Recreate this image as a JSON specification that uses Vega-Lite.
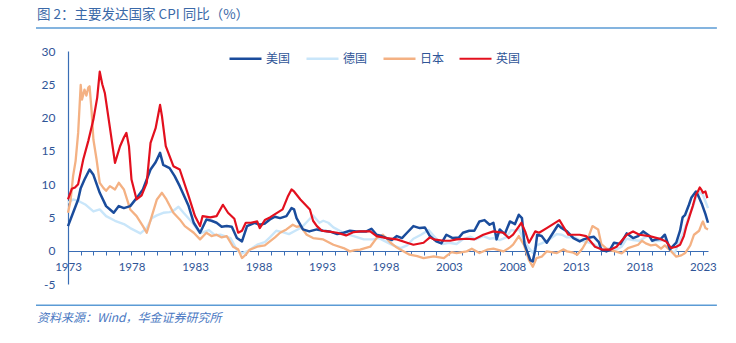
{
"$schema": "https://vega.github.io/schema/vega-lite/v6.json",
"width": 640, "height": 233,
"autosize": {"type": "none"},
"padding": {"left": 68, "top": 51, "right": 28, "bottom": 59},
"background": "white",
"config": {"view": {"stroke": null}, "axis": {"labelOverlap": false, "labelFlush": false}},
"title": {"text": "图 2：主要发达国家 CPI 同比（%）", "anchor": "start", "frame": "group", "dx": -31, "offset": 6, "fontSize": 13.5, "font": "Noto Sans CJK SC", "fontWeight": "normal", "color": "#3B69A8"},
"datasets": {
"cpi": [
{"country":"德国","year":1973.0,"cpi":7.2},{"country":"德国","year":1973.4,"cpi":7.7},{"country":"德国","year":1973.9,"cpi":7.4},{"country":"德国","year":1974.4,"cpi":6.9},{"country":"德国","year":1975.0,"cpi":5.9},{"country":"德国","year":1975.5,"cpi":6.2},{"country":"德国","year":1976.0,"cpi":5.2},{"country":"德国","year":1976.7,"cpi":4.5},{"country":"德国","year":1977.4,"cpi":4.0},{"country":"德国","year":1977.9,"cpi":3.4},{"country":"德国","year":1978.7,"cpi":2.6},{"country":"德国","year":1979.2,"cpi":3.4},{"country":"德国","year":1979.6,"cpi":4.9},{"country":"德国","year":1980.0,"cpi":5.3},{"country":"德国","year":1980.5,"cpi":5.7},{"country":"德国","year":1981.0,"cpi":5.8},{"country":"德国","year":1981.3,"cpi":6.0},{"country":"德国","year":1981.7,"cpi":6.6},{"country":"德国","year":1982.1,"cpi":5.7},{"country":"德国","year":1982.8,"cpi":4.2},{"country":"德国","year":1983.4,"cpi":2.6},{"country":"德国","year":1984.1,"cpi":3.1},{"country":"德国","year":1984.6,"cpi":2.3},{"country":"德国","year":1985.0,"cpi":2.4},{"country":"德国","year":1985.8,"cpi":1.9},{"country":"德国","year":1986.3,"cpi":0.1},{"country":"德国","year":1986.7,"cpi":-0.4},{"country":"德国","year":1987.3,"cpi":0.1},{"country":"德国","year":1987.9,"cpi":0.9},{"country":"德国","year":1988.5,"cpi":1.3},{"country":"德国","year":1988.9,"cpi":2.0},{"country":"德国","year":1989.4,"cpi":3.0},{"country":"德国","year":1989.9,"cpi":2.8},{"country":"德国","year":1990.4,"cpi":2.5},{"country":"德国","year":1990.9,"cpi":3.0},{"country":"德国","year":1991.4,"cpi":3.5},{"country":"德国","year":1991.9,"cpi":4.5},{"country":"德国","year":1992.3,"cpi":5.3},{"country":"德国","year":1992.8,"cpi":4.2},{"country":"德国","year":1993.1,"cpi":4.5},{"country":"德国","year":1993.5,"cpi":4.2},{"country":"德国","year":1993.9,"cpi":3.5},{"country":"德国","year":1994.4,"cpi":3.0},{"country":"德国","year":1994.9,"cpi":2.5},{"country":"德国","year":1995.5,"cpi":2.2},{"country":"德国","year":1996.3,"cpi":1.7},{"country":"德国","year":1997.0,"cpi":1.7},{"country":"德国","year":1997.5,"cpi":1.9},{"country":"德国","year":1997.8,"cpi":1.6},{"country":"德国","year":1998.6,"cpi":0.8},{"country":"德国","year":1999.2,"cpi":0.4},{"country":"德国","year":1999.7,"cpi":0.8},{"country":"德国","year":2000.2,"cpi":1.8},{"country":"德国","year":2000.8,"cpi":2.4},{"country":"德国","year":2001.4,"cpi":3.1},{"country":"德国","year":2002.0,"cpi":1.8},{"country":"德国","year":2002.5,"cpi":1.0},{"country":"德国","year":2003.0,"cpi":1.2},{"country":"德国","year":2003.6,"cpi":1.0},{"country":"德国","year":2004.1,"cpi":1.7},{"country":"德国","year":2004.7,"cpi":2.1},{"country":"德国","year":2005.1,"cpi":1.7},{"country":"德国","year":2005.7,"cpi":2.2},{"country":"德国","year":2006.2,"cpi":1.8},{"country":"德国","year":2006.5,"cpi":1.9},{"country":"德国","year":2007.0,"cpi":1.6},{"country":"德国","year":2007.5,"cpi":2.0},{"country":"德国","year":2007.9,"cpi":3.1},{"country":"德国","year":2008.3,"cpi":3.0},{"country":"德国","year":2008.5,"cpi":3.3},{"country":"德国","year":2008.9,"cpi":1.6},{"country":"德国","year":2009.3,"cpi":0.4},{"country":"德国","year":2009.6,"cpi":-0.3},{"country":"德国","year":2009.9,"cpi":0.8},{"country":"德国","year":2010.3,"cpi":1.1},{"country":"德国","year":2010.9,"cpi":1.7},{"country":"德国","year":2011.5,"cpi":2.5},{"country":"德国","year":2011.9,"cpi":2.4},{"country":"德国","year":2012.3,"cpi":2.0},{"country":"德国","year":2012.9,"cpi":2.0},{"country":"德国","year":2013.4,"cpi":1.5},{"country":"德国","year":2013.9,"cpi":1.3},{"country":"德国","year":2014.4,"cpi":1.0},{"country":"德国","year":2014.9,"cpi":0.3},{"country":"德国","year":2015.5,"cpi":0.3},{"country":"德国","year":2016.2,"cpi":0.2},{"country":"德国","year":2016.6,"cpi":0.6},{"country":"德国","year":2017.0,"cpi":1.8},{"country":"德国","year":2017.5,"cpi":1.6},{"country":"德国","year":2018.0,"cpi":1.5},{"country":"德国","year":2018.7,"cpi":2.3},{"country":"德国","year":2019.0,"cpi":1.4},{"country":"德国","year":2019.6,"cpi":1.5},{"country":"德国","year":2020.1,"cpi":1.7},{"country":"德国","year":2020.5,"cpi":0.0},{"country":"德国","year":2020.8,"cpi":-0.3},{"country":"德国","year":2021.1,"cpi":1.3},{"country":"德国","year":2021.4,"cpi":2.4},{"country":"德国","year":2021.7,"cpi":4.0},{"country":"德国","year":2021.9,"cpi":5.3},{"country":"德国","year":2022.2,"cpi":6.5},{"country":"德国","year":2022.45,"cpi":8.0},{"country":"德国","year":2022.75,"cpi":8.8},{"country":"德国","year":2023.0,"cpi":8.4},{"country":"德国","year":2023.2,"cpi":7.4},{"country":"德国","year":2023.4,"cpi":6.4},
{"country":"日本","year":1973.0,"cpi":5.7},{"country":"日本","year":1973.2,"cpi":7.5},{"country":"日本","year":1973.4,"cpi":11.2},{"country":"日本","year":1973.6,"cpi":13.5},{"country":"日本","year":1973.8,"cpi":17.7},{"country":"日本","year":1974.0,"cpi":24.9},{"country":"日本","year":1974.1,"cpi":22.7},{"country":"日本","year":1974.3,"cpi":24.2},{"country":"日本","year":1974.45,"cpi":23.3},{"country":"日本","year":1974.6,"cpi":24.5},{"country":"日本","year":1974.7,"cpi":24.7},{"country":"日本","year":1974.85,"cpi":21.2},{"country":"日本","year":1975.0,"cpi":16.7},{"country":"日本","year":1975.25,"cpi":13.7},{"country":"日本","year":1975.5,"cpi":10.2},{"country":"日本","year":1975.8,"cpi":9.4},{"country":"日本","year":1976.0,"cpi":9.0},{"country":"日本","year":1976.3,"cpi":9.7},{"country":"日本","year":1976.7,"cpi":9.2},{"country":"日本","year":1977.0,"cpi":10.2},{"country":"日本","year":1977.4,"cpi":9.2},{"country":"日本","year":1977.9,"cpi":6.2},{"country":"日本","year":1978.4,"cpi":5.2},{"country":"日本","year":1978.9,"cpi":3.7},{"country":"日本","year":1979.2,"cpi":2.7},{"country":"日本","year":1979.6,"cpi":5.2},{"country":"日本","year":1980.0,"cpi":7.7},{"country":"日本","year":1980.4,"cpi":8.7},{"country":"日本","year":1980.75,"cpi":7.7},{"country":"日本","year":1981.3,"cpi":5.7},{"country":"日本","year":1981.8,"cpi":4.7},{"country":"日本","year":1982.2,"cpi":3.7},{"country":"日本","year":1982.9,"cpi":2.7},{"country":"日本","year":1983.4,"cpi":1.7},{"country":"日本","year":1983.9,"cpi":2.7},{"country":"日本","year":1984.3,"cpi":2.2},{"country":"日本","year":1984.7,"cpi":2.4},{"country":"日本","year":1985.1,"cpi":2.0},{"country":"日本","year":1985.5,"cpi":2.2},{"country":"日本","year":1986.0,"cpi":0.6},{"country":"日本","year":1986.4,"cpi":0.2},{"country":"日本","year":1986.7,"cpi":-1.1},{"country":"日本","year":1987.0,"cpi":-0.6},{"country":"日本","year":1987.3,"cpi":0.15},{"country":"日本","year":1987.9,"cpi":0.6},{"country":"日本","year":1988.5,"cpi":0.8},{"country":"日本","year":1988.9,"cpi":1.4},{"country":"日本","year":1989.3,"cpi":2.0},{"country":"日本","year":1989.7,"cpi":2.7},{"country":"日本","year":1990.2,"cpi":3.2},{"country":"日本","year":1990.7,"cpi":3.9},{"country":"日本","year":1991.0,"cpi":3.6},{"country":"日本","year":1991.3,"cpi":3.7},{"country":"日本","year":1991.8,"cpi":2.4},{"country":"日本","year":1992.3,"cpi":1.9},{"country":"日本","year":1993.1,"cpi":1.7},{"country":"日本","year":1993.9,"cpi":0.9},{"country":"日本","year":1994.7,"cpi":0.4},{"country":"日本","year":1995.2,"cpi":-0.1},{"country":"日本","year":1995.6,"cpi":0.1},{"country":"日本","year":1996.0,"cpi":0.15},{"country":"日本","year":1996.8,"cpi":0.6},{"country":"日本","year":1997.3,"cpi":1.9},{"country":"日本","year":1997.8,"cpi":2.4},{"country":"日本","year":1998.4,"cpi":1.2},{"country":"日本","year":1998.8,"cpi":0.6},{"country":"日本","year":1999.2,"cpi":0.15},{"country":"日本","year":1999.9,"cpi":-0.6},{"country":"日本","year":2000.5,"cpi":-0.8},{"country":"日本","year":2001.0,"cpi":-1.1},{"country":"日本","year":2001.8,"cpi":-0.85},{"country":"日本","year":2002.6,"cpi":-1.1},{"country":"日本","year":2003.2,"cpi":-0.2},{"country":"日本","year":2003.6,"cpi":-0.35},{"country":"日本","year":2004.4,"cpi":-0.1},{"country":"日本","year":2004.8,"cpi":0.3},{"country":"日本","year":2005.4,"cpi":-0.35},{"country":"日本","year":2006.0,"cpi":0.15},{"country":"日本","year":2006.5,"cpi":0.3},{"country":"日本","year":2007.3,"cpi":-0.1},{"country":"日本","year":2007.8,"cpi":0.5},{"country":"日本","year":2008.05,"cpi":0.9},{"country":"日本","year":2008.5,"cpi":2.2},{"country":"日本","year":2008.9,"cpi":0.9},{"country":"日本","year":2009.3,"cpi":-1.4},{"country":"日本","year":2009.6,"cpi":-2.4},{"country":"日本","year":2009.9,"cpi":-1.1},{"country":"日本","year":2010.3,"cpi":-0.9},{"country":"日本","year":2010.7,"cpi":-0.1},{"country":"日本","year":2011.5,"cpi":-0.35},{"country":"日本","year":2012.0,"cpi":0.2},{"country":"日本","year":2012.3,"cpi":-0.1},{"country":"日本","year":2012.8,"cpi":-0.3},{"country":"日本","year":2013.1,"cpi":-0.6},{"country":"日本","year":2013.5,"cpi":0.3},{"country":"日本","year":2013.9,"cpi":1.6},{"country":"日本","year":2014.3,"cpi":3.7},{"country":"日本","year":2014.75,"cpi":3.2},{"country":"日本","year":2015.0,"cpi":1.0},{"country":"日本","year":2015.5,"cpi":0.15},{"country":"日本","year":2016.1,"cpi":-0.1},{"country":"日本","year":2016.6,"cpi":-0.4},{"country":"日本","year":2017.1,"cpi":0.4},{"country":"日本","year":2017.9,"cpi":0.9},{"country":"日本","year":2018.2,"cpi":1.5},{"country":"日本","year":2018.5,"cpi":1.1},{"country":"日本","year":2018.9,"cpi":0.8},{"country":"日本","year":2019.3,"cpi":0.9},{"country":"日本","year":2019.7,"cpi":0.3},{"country":"日本","year":2020.0,"cpi":0.8},{"country":"日本","year":2020.4,"cpi":0.1},{"country":"日本","year":2020.9,"cpi":-0.9},{"country":"日本","year":2021.3,"cpi":-0.7},{"country":"日本","year":2021.6,"cpi":-0.35},{"country":"日本","year":2022.0,"cpi":0.8},{"country":"日本","year":2022.3,"cpi":2.4},{"country":"日本","year":2022.7,"cpi":3.0},{"country":"日本","year":2022.9,"cpi":4.0},{"country":"日本","year":2023.0,"cpi":4.4},{"country":"日本","year":2023.2,"cpi":3.4},{"country":"日本","year":2023.4,"cpi":3.2},
{"country":"美国","year":1973.0,"cpi":3.7},{"country":"美国","year":1973.4,"cpi":5.7},{"country":"美国","year":1973.8,"cpi":7.7},{"country":"美国","year":1974.0,"cpi":9.4},{"country":"美国","year":1974.3,"cpi":10.7},{"country":"美国","year":1974.7,"cpi":12.2},{"country":"美国","year":1975.0,"cpi":11.4},{"country":"美国","year":1975.5,"cpi":8.7},{"country":"美国","year":1976.0,"cpi":6.7},{"country":"美国","year":1976.6,"cpi":5.7},{"country":"美国","year":1977.0,"cpi":6.7},{"country":"美国","year":1977.4,"cpi":6.4},{"country":"美国","year":1977.9,"cpi":6.7},{"country":"美国","year":1978.4,"cpi":7.9},{"country":"美国","year":1978.9,"cpi":9.2},{"country":"美国","year":1979.5,"cpi":12.2},{"country":"美国","year":1979.9,"cpi":13.3},{"country":"美国","year":1980.25,"cpi":14.7},{"country":"美国","year":1980.5,"cpi":12.9},{"country":"美国","year":1981.0,"cpi":12.4},{"country":"美国","year":1981.4,"cpi":11.2},{"country":"美国","year":1981.8,"cpi":9.7},{"country":"美国","year":1982.5,"cpi":6.7},{"country":"美国","year":1982.9,"cpi":4.2},{"country":"美国","year":1983.4,"cpi":2.7},{"country":"美国","year":1983.9,"cpi":4.7},{"country":"美国","year":1984.3,"cpi":4.5},{"country":"美国","year":1984.7,"cpi":4.2},{"country":"美国","year":1985.1,"cpi":3.6},{"country":"美国","year":1985.5,"cpi":3.7},{"country":"美国","year":1985.9,"cpi":3.6},{"country":"美国","year":1986.3,"cpi":1.9},{"country":"美国","year":1986.7,"cpi":1.4},{"country":"美国","year":1987.1,"cpi":3.7},{"country":"美国","year":1987.7,"cpi":4.2},{"country":"美国","year":1988.1,"cpi":3.9},{"country":"美国","year":1988.5,"cpi":4.1},{"country":"美国","year":1988.9,"cpi":4.7},{"country":"美国","year":1989.3,"cpi":5.1},{"country":"美国","year":1989.7,"cpi":4.9},{"country":"美国","year":1990.2,"cpi":5.2},{"country":"美国","year":1990.6,"cpi":6.4},{"country":"美国","year":1990.8,"cpi":6.2},{"country":"美国","year":1991.0,"cpi":4.9},{"country":"美国","year":1991.5,"cpi":3.2},{"country":"美国","year":1992.0,"cpi":2.9},{"country":"美国","year":1992.6,"cpi":3.2},{"country":"美国","year":1993.1,"cpi":3.0},{"country":"美国","year":1993.6,"cpi":2.9},{"country":"美国","year":1994.2,"cpi":2.5},{"country":"美国","year":1994.7,"cpi":2.7},{"country":"美国","year":1995.2,"cpi":3.0},{"country":"美国","year":1995.7,"cpi":2.9},{"country":"美国","year":1996.5,"cpi":2.9},{"country":"美国","year":1996.9,"cpi":3.3},{"country":"美国","year":1997.3,"cpi":2.4},{"country":"美国","year":1997.7,"cpi":2.2},{"country":"美国","year":1998.1,"cpi":1.9},{"country":"美国","year":1998.5,"cpi":1.6},{"country":"美国","year":1998.9,"cpi":2.2},{"country":"美国","year":1999.3,"cpi":1.9},{"country":"美国","year":1999.7,"cpi":2.7},{"country":"美国","year":2000.2,"cpi":3.7},{"country":"美国","year":2000.7,"cpi":3.4},{"country":"美国","year":2001.1,"cpi":3.5},{"country":"美国","year":2001.5,"cpi":2.2},{"country":"美国","year":2002.0,"cpi":1.4},{"country":"美国","year":2002.4,"cpi":1.1},{"country":"美国","year":2002.8,"cpi":2.4},{"country":"美国","year":2003.3,"cpi":1.9},{"country":"美国","year":2003.8,"cpi":2.0},{"country":"美国","year":2004.1,"cpi":2.7},{"country":"美国","year":2004.6,"cpi":3.0},{"country":"美国","year":2005.0,"cpi":3.0},{"country":"美国","year":2005.4,"cpi":4.4},{"country":"美国","year":2005.8,"cpi":4.6},{"country":"美国","year":2006.2,"cpi":3.9},{"country":"美国","year":2006.5,"cpi":4.2},{"country":"美国","year":2006.75,"cpi":1.7},{"country":"美国","year":2007.0,"cpi":3.2},{"country":"美国","year":2007.4,"cpi":2.5},{"country":"美国","year":2007.8,"cpi":4.4},{"country":"美国","year":2008.2,"cpi":4.0},{"country":"美国","year":2008.5,"cpi":5.4},{"country":"美国","year":2008.75,"cpi":4.9},{"country":"美国","year":2008.95,"cpi":1.0},{"country":"美国","year":2009.1,"cpi":0.2},{"country":"美国","year":2009.4,"cpi":-1.4},{"country":"美国","year":2009.6,"cpi":-1.6},{"country":"美国","year":2009.8,"cpi":0.15},{"country":"美国","year":2009.95,"cpi":2.4},{"country":"美国","year":2010.3,"cpi":2.2},{"country":"美国","year":2010.7,"cpi":1.2},{"country":"美国","year":2011.2,"cpi":2.7},{"country":"美国","year":2011.6,"cpi":3.9},{"country":"美国","year":2011.8,"cpi":3.5},{"country":"美国","year":2012.3,"cpi":2.9},{"country":"美国","year":2012.8,"cpi":1.9},{"country":"美国","year":2013.3,"cpi":1.4},{"country":"美国","year":2013.6,"cpi":1.7},{"country":"美国","year":2014.1,"cpi":2.0},{"country":"美国","year":2014.4,"cpi":2.1},{"country":"美国","year":2014.8,"cpi":1.3},{"country":"美国","year":2015.0,"cpi":0.15},{"country":"美国","year":2015.4,"cpi":-0.1},{"country":"美国","year":2015.7,"cpi":0.2},{"country":"美国","year":2016.0,"cpi":1.2},{"country":"美国","year":2016.5,"cpi":1.0},{"country":"美国","year":2017.0,"cpi":2.6},{"country":"美国","year":2017.5,"cpi":1.9},{"country":"美国","year":2017.9,"cpi":2.2},{"country":"美国","year":2018.3,"cpi":2.9},{"country":"美国","year":2018.8,"cpi":2.2},{"country":"美国","year":2019.0,"cpi":1.5},{"country":"美国","year":2019.3,"cpi":1.7},{"country":"美国","year":2019.7,"cpi":1.8},{"country":"美国","year":2020.0,"cpi":2.4},{"country":"美国","year":2020.4,"cpi":0.2},{"country":"美国","year":2020.9,"cpi":1.2},{"country":"美国","year":2021.2,"cpi":3.0},{"country":"美国","year":2021.4,"cpi":5.0},{"country":"美国","year":2021.6,"cpi":5.4},{"country":"美国","year":2021.9,"cpi":6.9},{"country":"美国","year":2022.1,"cpi":8.0},{"country":"美国","year":2022.45,"cpi":8.9},{"country":"美国","year":2022.6,"cpi":8.4},{"country":"美国","year":2022.9,"cpi":7.1},{"country":"美国","year":2023.2,"cpi":5.5},{"country":"美国","year":2023.4,"cpi":4.2},
{"country":"英国","year":1973.0,"cpi":7.7},{"country":"英国","year":1973.3,"cpi":9.3},{"country":"英国","year":1973.55,"cpi":9.5},{"country":"英国","year":1973.8,"cpi":10.0},{"country":"英国","year":1974.2,"cpi":13.7},{"country":"英国","year":1974.6,"cpi":16.5},{"country":"英国","year":1975.0,"cpi":19.7},{"country":"英国","year":1975.3,"cpi":23.0},{"country":"英国","year":1975.5,"cpi":26.9},{"country":"英国","year":1975.7,"cpi":25.0},{"country":"英国","year":1975.9,"cpi":23.7},{"country":"英国","year":1976.3,"cpi":18.5},{"country":"英国","year":1976.7,"cpi":13.2},{"country":"英国","year":1977.1,"cpi":15.7},{"country":"英国","year":1977.4,"cpi":17.0},{"country":"英国","year":1977.6,"cpi":17.7},{"country":"英国","year":1977.8,"cpi":15.7},{"country":"英国","year":1978.0,"cpi":10.7},{"country":"英国","year":1978.4,"cpi":7.7},{"country":"英国","year":1978.8,"cpi":8.3},{"country":"英国","year":1979.2,"cpi":10.2},{"country":"英国","year":1979.5,"cpi":16.2},{"country":"英国","year":1979.9,"cpi":18.4},{"country":"英国","year":1980.25,"cpi":21.9},{"country":"英国","year":1980.4,"cpi":20.2},{"country":"英国","year":1980.7,"cpi":15.7},{"country":"英国","year":1981.3,"cpi":12.7},{"country":"英国","year":1981.8,"cpi":12.2},{"country":"英国","year":1982.5,"cpi":8.2},{"country":"英国","year":1983.0,"cpi":5.2},{"country":"英国","year":1983.4,"cpi":3.7},{"country":"英国","year":1983.6,"cpi":5.2},{"country":"英国","year":1984.2,"cpi":5.0},{"country":"英国","year":1984.7,"cpi":5.2},{"country":"英国","year":1985.2,"cpi":6.9},{"country":"英国","year":1985.6,"cpi":5.7},{"country":"英国","year":1986.1,"cpi":4.8},{"country":"英国","year":1986.4,"cpi":2.7},{"country":"英国","year":1986.7,"cpi":3.0},{"country":"英国","year":1987.0,"cpi":4.2},{"country":"英国","year":1987.4,"cpi":4.2},{"country":"英国","year":1987.9,"cpi":4.4},{"country":"英国","year":1988.1,"cpi":3.4},{"country":"英国","year":1988.5,"cpi":4.6},{"country":"英国","year":1988.9,"cpi":5.0},{"country":"英国","year":1989.4,"cpi":5.6},{"country":"英国","year":1989.9,"cpi":6.2},{"country":"英国","year":1990.3,"cpi":8.1},{"country":"英国","year":1990.6,"cpi":9.2},{"country":"英国","year":1990.8,"cpi":8.9},{"country":"英国","year":1991.3,"cpi":7.7},{"country":"英国","year":1992.05,"cpi":6.2},{"country":"英国","year":1992.3,"cpi":4.5},{"country":"英国","year":1992.6,"cpi":3.7},{"country":"英国","year":1993.0,"cpi":3.0},{"country":"英国","year":1993.4,"cpi":2.9},{"country":"英国","year":1994.2,"cpi":2.7},{"country":"英国","year":1994.9,"cpi":2.3},{"country":"英国","year":1995.5,"cpi":2.8},{"country":"英国","year":1996.0,"cpi":2.9},{"country":"英国","year":1996.8,"cpi":2.9},{"country":"英国","year":1997.3,"cpi":2.2},{"country":"英国","year":1998.1,"cpi":1.9},{"country":"英国","year":1998.9,"cpi":1.7},{"country":"英国","year":1999.7,"cpi":1.2},{"country":"英国","year":2000.2,"cpi":0.9},{"country":"英国","year":2001.0,"cpi":1.2},{"country":"英国","year":2001.5,"cpi":2.0},{"country":"英国","year":2001.8,"cpi":1.7},{"country":"英国","year":2002.6,"cpi":1.5},{"country":"英国","year":2003.1,"cpi":1.5},{"country":"英国","year":2003.6,"cpi":1.7},{"country":"英国","year":2004.4,"cpi":1.8},{"country":"英国","year":2005.0,"cpi":1.7},{"country":"英国","year":2005.7,"cpi":2.4},{"country":"英国","year":2006.5,"cpi":2.9},{"country":"英国","year":2006.9,"cpi":2.8},{"country":"英国","year":2007.3,"cpi":2.7},{"country":"英国","year":2007.7,"cpi":1.9},{"country":"英国","year":2008.05,"cpi":2.4},{"country":"英国","year":2008.7,"cpi":4.2},{"country":"英国","year":2009.0,"cpi":2.9},{"country":"英国","year":2009.3,"cpi":1.2},{"country":"英国","year":2009.8,"cpi":2.9},{"country":"英国","year":2010.1,"cpi":2.7},{"country":"英国","year":2010.7,"cpi":3.4},{"country":"英国","year":2011.2,"cpi":4.0},{"country":"英国","year":2011.7,"cpi":4.6},{"country":"英国","year":2012.4,"cpi":2.4},{"country":"英国","year":2013.3,"cpi":2.4},{"country":"英国","year":2013.8,"cpi":2.2},{"country":"英国","year":2014.5,"cpi":0.6},{"country":"英国","year":2015.1,"cpi":0.15},{"country":"英国","year":2015.7,"cpi":0.15},{"country":"英国","year":2016.2,"cpi":0.6},{"country":"英国","year":2017.0,"cpi":2.4},{"country":"英国","year":2017.5,"cpi":2.9},{"country":"英国","year":2018.0,"cpi":2.4},{"country":"英国","year":2018.8,"cpi":2.2},{"country":"英国","year":2019.6,"cpi":1.8},{"country":"英国","year":2020.1,"cpi":1.4},{"country":"英国","year":2020.5,"cpi":0.4},{"country":"英国","year":2020.9,"cpi":0.6},{"country":"英国","year":2021.2,"cpi":0.9},{"country":"英国","year":2021.5,"cpi":2.2},{"country":"英国","year":2021.7,"cpi":3.7},{"country":"英国","year":2021.95,"cpi":5.2},{"country":"英国","year":2022.2,"cpi":6.7},{"country":"英国","year":2022.45,"cpi":8.4},{"country":"英国","year":2022.6,"cpi":8.9},{"country":"英国","year":2022.75,"cpi":9.5},{"country":"英国","year":2022.9,"cpi":9.1},{"country":"英国","year":2023.0,"cpi":8.7},{"country":"英国","year":2023.2,"cpi":8.9},{"country":"英国","year":2023.35,"cpi":7.9}
]
},
"layer": [
{
"data": {"name": "cpi"},
"mark": {"type": "line", "strokeJoin": "round"},
"encoding": {
"x": {"field": "year", "type": "quantitative",
 "scale": {"domain": [1973, 2023.4], "nice": false, "zero": false},
 "axis": {"title": null, "grid": false, "offset": -33, "tickCount": 200,
  "values": [1973,1974,1975,1976,1977,1978,1979,1980,1981,1982,1983,1984,1985,1986,1987,1988,1989,1990,1991,1992,1993,1994,1995,1996,1997,1998,1999,2000,2001,2002,2003,2004,2005,2006,2007,2008,2009,2010,2011,2012,2013,2014,2015,2016,2017,2018,2019,2020,2021,2022,2023],
  "labelExpr": "(datum.value - 1973) % 5 == 0 ? '' + datum.value : ''",
  "labelOverlap": false, "labelFlush": false, "labelBound": false,
  "tickSize": 4, "tickColor": "#3A6DB5", "domainColor": "#3A6DB5", "domainWidth": 1.2,
  "labelColor": "#2F5597", "labelFont": "Lato", "labelFontSize": 11.5, "labelPadding": 6}},
"y": {"field": "cpi", "type": "quantitative",
 "scale": {"domain": [-5, 30], "nice": false, "zero": false},
 "axis": {"title": null, "grid": false, "values": [-5,0,5,10,15,20,25,30], "tickCount": 50,
  "labelExpr": "'' + datum.value", "labelOverlap": false, "labelFlush": false, "labelBound": false,
  "ticks": false, "domainColor": "#3A6DB5", "domainWidth": 1.2,
  "labelColor": "#2F5597", "labelFont": "Lato", "labelFontSize": 12, "labelPadding": 13}},
"color": {"field": "country", "type": "nominal",
 "scale": {"domain": ["美国","德国","日本","英国"], "range": ["#1A4C9C","#C9E6FA","#F4B183","#E3101E"]},
 "legend": {"orient": "none", "legendX": 160, "legendY": -10, "direction": "horizontal", "title": null,
  "symbolType": "stroke", "symbolSize": 1024, "symbolStrokeWidth": 2.5,
  "labelFont": "Noto Sans CJK SC", "labelFontSize": 12, "labelColor": "#2F5597", "labelOffset": 3,
  "columnPadding": 10, "padding": 0}},
"strokeWidth": {"field": "country", "type": "nominal",
 "scale": {"domain": ["美国","德国","日本","英国"], "range": [2.5, 2.2, 2.2, 2.5]}, "legend": null}
}
},
{
"data": {"values": [{}]},
"mark": {"type": "rule", "color": "#5B9BD5", "strokeWidth": 1.6},
"encoding": {"x": {"datum": 1970.48}, "x2": {"datum": 2024.1}, "y": {"datum": 33.45}}
},
{
"data": {"values": [{}]},
"mark": {"type": "rule", "color": "#5B9BD5", "strokeWidth": 1.6},
"encoding": {"x": {"datum": 1970.48}, "x2": {"datum": 2024.1}, "y": {"datum": -8.2}}
},
{
"data": {"values": [{}]},
"mark": {"type": "text", "align": "left", "baseline": "middle", "fontStyle": "italic", "fontSize": 12, "font": "Noto Sans CJK SC", "color": "#4A78C2"},
"encoding": {"x": {"datum": 1970.55}, "y": {"datum": -10.1}, "text": {"value": "资料来源：Wind，华金证券研究所"}}
}
]
}
